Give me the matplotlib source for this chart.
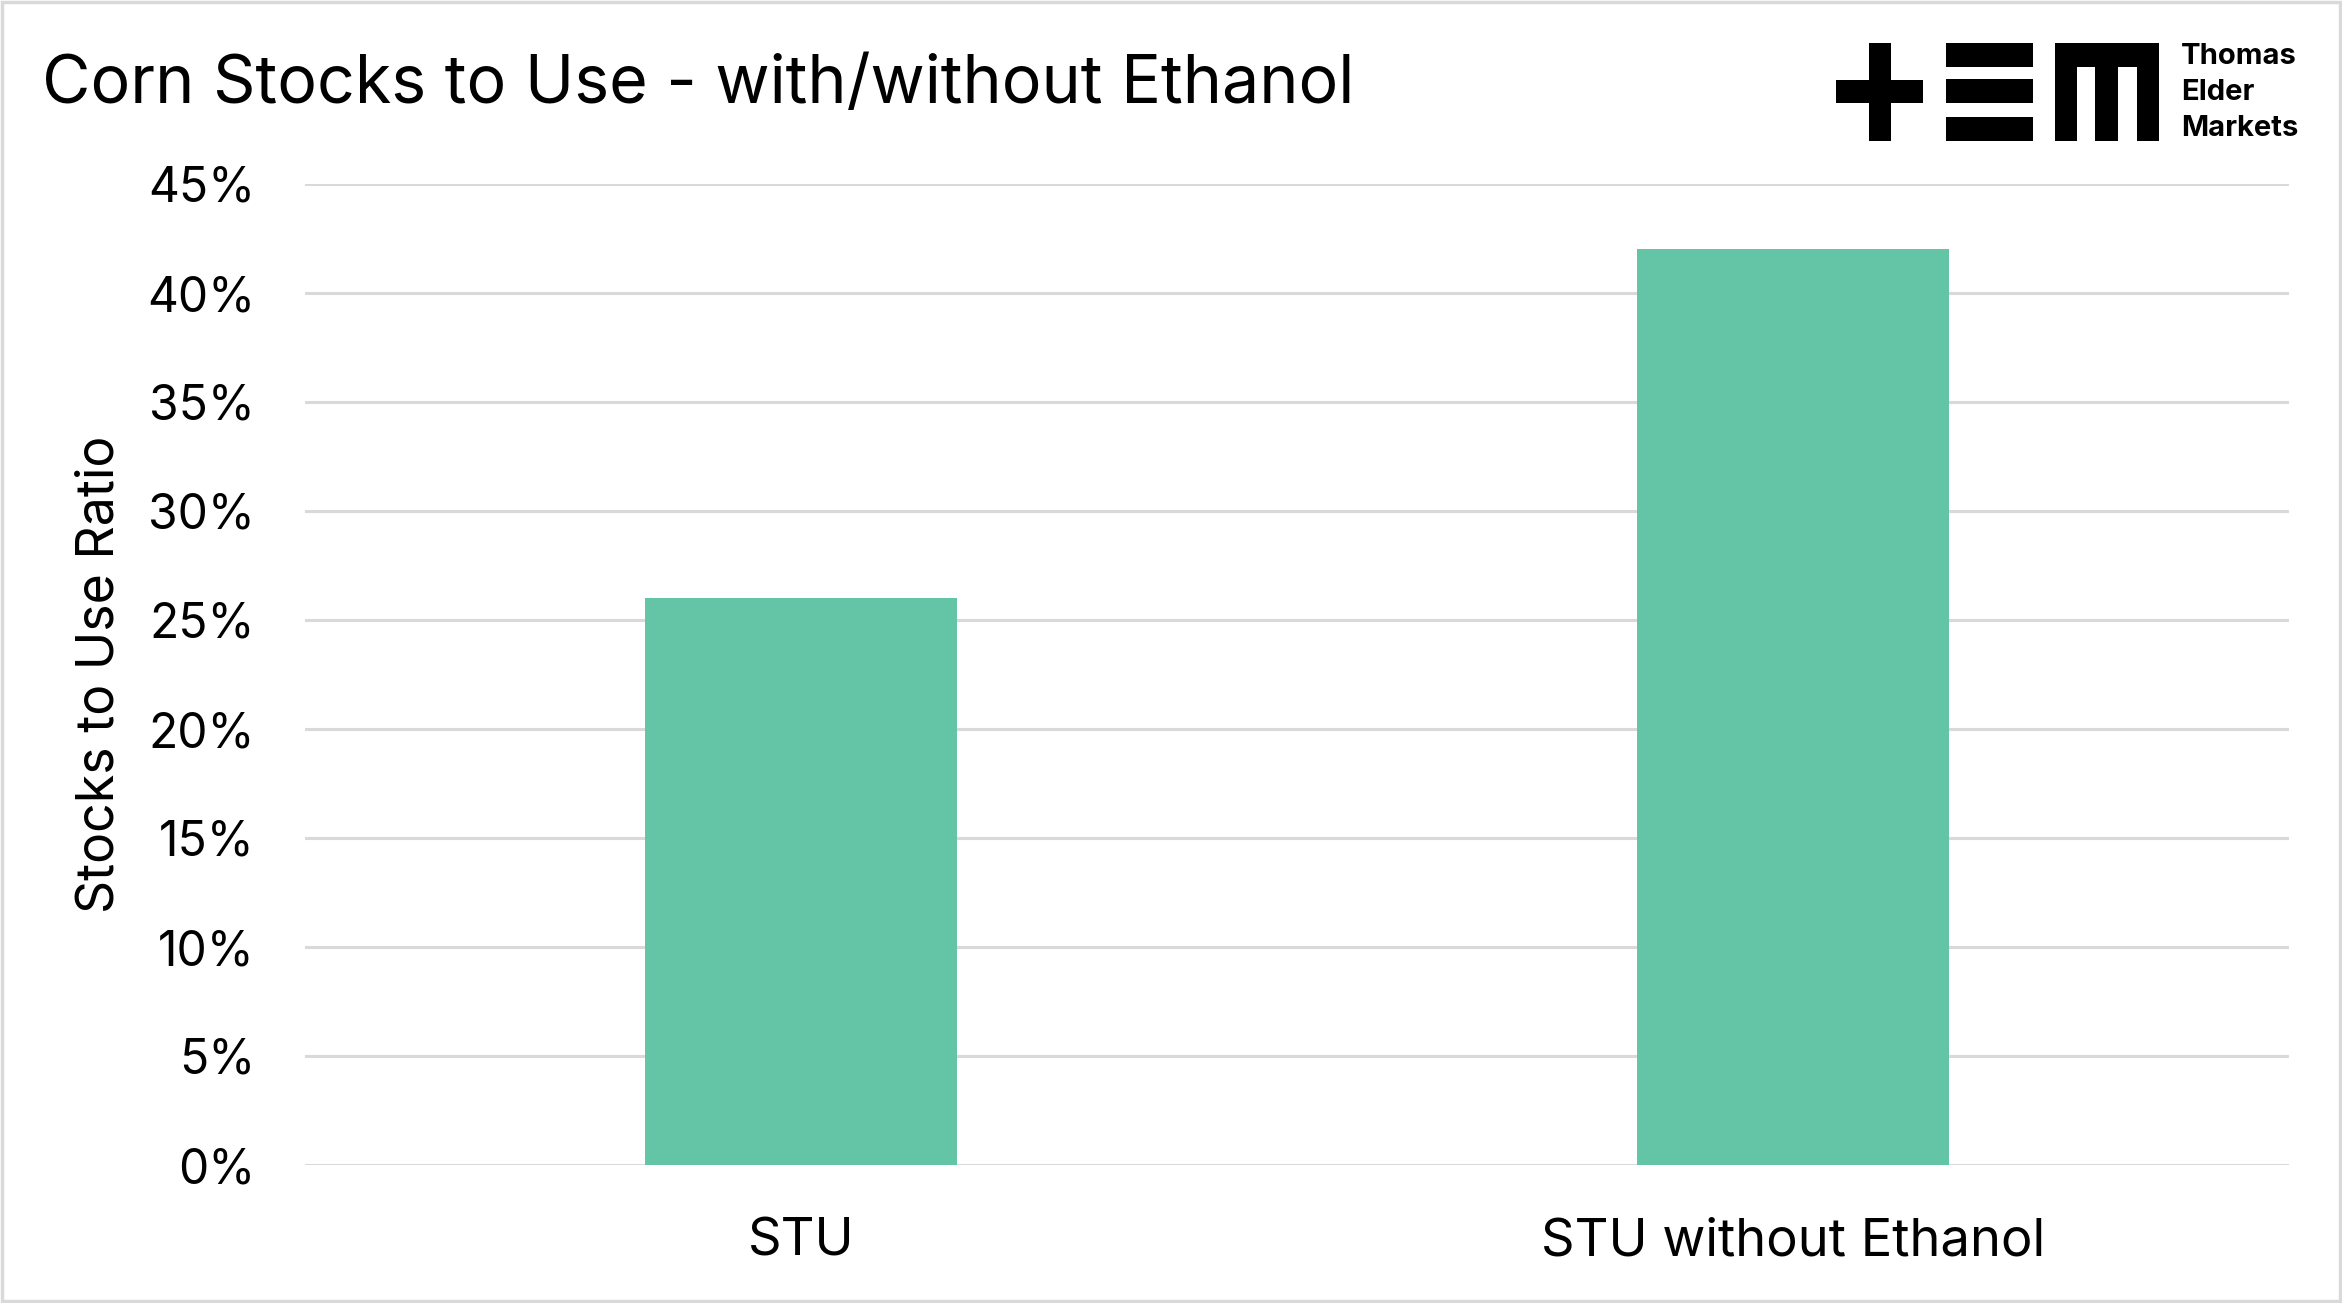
import numpy as np
import matplotlib.pyplot as plt
from matplotlib.patches import Rectangle
from matplotlib.ticker import PercentFormatter

# data
categories = ['STU', 'STU without Ethanol']
stocks_to_use = [0.26, 0.42]
y_ticks = np.arange(0, 0.451, 0.05)

W, H = 2342, 1303
plt.rcParams['font.family'] = ['Inter', 'DejaVu Sans']

fig = plt.figure(figsize=(W / 100, H / 100), dpi=100)
ax = fig.add_axes([305 / W, 1 - 1165 / H, (2289 - 305) / W, (1165 - 184) / H])

x = np.arange(len(categories))
ax.bar(x, stocks_to_use, width=0.314, color='#63c5a5', zorder=3)

ax.set_xlim(-0.5, len(categories) - 0.5)
ax.set_ylim(0, 0.45)
ax.set_yticks(y_ticks)
ax.yaxis.set_major_formatter(PercentFormatter(1.0, decimals=0))
ax.set_xticks(x)
ax.set_xticklabels(categories)

ax.grid(axis='y', color='#d9d9d9', linewidth=2.2, zorder=0)
for s in ax.spines.values():
    s.set_visible(False)
ax.tick_params(axis='y', length=0, pad=36, labelsize=34.5)
ax.tick_params(axis='x', length=0, pad=38, labelsize=37.8)

ax.set_ylabel('Stocks to Use Ratio', fontsize=37.3)
ax.yaxis.set_label_coords(-0.091, 0.5)

fig.text(42 / W, 1 - 85 / H, 'Corn Stocks to Use - with/without Ethanol',
         fontsize=47.7, ha='left', va='center')

# logo
def box(x0, y0, x1, y1):
    fig.add_artist(Rectangle((x0 / W, 1 - y1 / H), (x1 - x0) / W, (y1 - y0) / H,
                             transform=fig.transFigure, color='black', lw=0))

box(1869, 43, 1891, 141)
box(1836, 80, 1923, 103)
for y0, y1 in [(43, 67), (79, 103), (117, 141)]:
    box(1946, y0, 2033, y1)
box(2055, 43, 2159, 67)
for x0, x1 in [(2055, 2077), (2095, 2118), (2137, 2159)]:
    box(x0, 43, x1, 141)
for yc, word in [(57, 'Thomas'), (93, 'Elder'), (129, 'Markets')]:
    fig.text(2181 / W, 1 - yc / H, word, fontsize=21, fontweight='bold',
             ha='left', va='center')

# light frame round the picture
fig.add_artist(Rectangle((0.0008, 0.0012), 0.9984, 0.9976, transform=fig.transFigure,
                         fill=False, edgecolor='#d9d9d9', lw=2.5))

fig.savefig('out.png', dpi=100, facecolor='white')
